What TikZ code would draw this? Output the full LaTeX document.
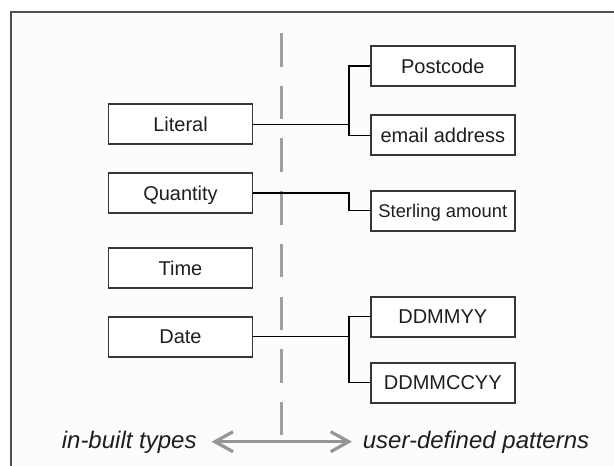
\documentclass[tikz,border=0pt]{standalone}
\usepackage{fontspec}
\setmainfont{Liberation Sans}
\usetikzlibrary{arrows.meta}
\definecolor{frameC}{RGB}{80,80,80}
\definecolor{boxC}{RGB}{55,55,55}
\definecolor{dashC}{RGB}{160,160,160}
\definecolor{arrC}{RGB}{150,150,150}
\definecolor{bgC}{RGB}{252,252,252}
\definecolor{txtC}{RGB}{30,30,30}
\tikzset{
  typebox/.style={draw=boxC, line width=1.6pt, fill=white, minimum width=144pt, minimum height=40pt,
    inner sep=0pt, text=txtC, font=\fontsize{20}{21}\selectfont, text height=14.5pt, text depth=0pt},
  conn/.style={draw=black, line width=1.2pt},
  sidelabel/.style={font=\fontsize{24}{26}\selectfont\itshape, text=txtC, inner sep=0pt, anchor=base}
}
\begin{document}
\begin{tikzpicture}[x=1pt,y=-1pt]
\useasboundingbox (0,0) rectangle (614,466);
\fill[white] (0,0) rectangle (614,466);
\fill[bgC] (11,12) rectangle (614,466);
\draw[frameC, line width=1.5pt] (11,466) -- (11,12) -- (614,12);
% dashed divider
\coordinate (dtop) at (281.5,33);
\coordinate (dbot) at (281.5,436);
\draw[dashC, line width=3.5pt, dash pattern=on 33.5pt off 19.2pt] (dtop) -- (dbot);
% left boxes
\node[typebox] (lit) at (180.5,124.2) {Literal};
\node[typebox] (qty) at (180.5,193) {Quantity};
\node[typebox] (tim) at (180.5,268) {Time};
\node[typebox] (dat) at (180.5,336.7) {Date};
% right boxes
\node[typebox] (post) at (442.8,66) {Postcode};
\node[typebox] (mail) at (442.8,135.2) {email address};
\node[typebox, font=\fontsize{18.4}{19}\selectfont] (ster) at (442.8,210.7) {Sterling amount};
\node[typebox] (ddyy) at (442.8,316.7) {DDMMYY};
\node[typebox] (ddccyy) at (442.8,382.7) {DDMMCCYY};
% junctions
\coordinate (j1) at (349,124.2);
\coordinate (j2) at (349,193);
\coordinate (j3) at (349,336.7);
\draw[conn] (lit.east) -- (j1);
\draw[conn] (j1) |- (post.west);
\draw[conn] (j1) |- (mail.west);
\draw[conn] (qty.east) -- (j2) |- (ster.west);
\draw[conn] (dat.east) -- (j3);
\draw[conn] (j3) |- (ddyy.west);
\draw[conn] (j3) |- (ddccyy.west);
% bottom labels and arrow
\node[sidelabel] (inb) at (129.2,448) {in-built types};
\node[sidelabel] (usr) at (476,448) {user-defined patterns};
\coordinate (al) at (211.7,441.7);
\coordinate (ar) at (352,441.7);
\draw[arrC, line width=3.2pt, {Straight Barb[length=18pt,width=20pt,line width=3.2pt]}-{Straight Barb[length=18pt,width=20pt,line width=3.2pt]}] (al) -- (ar);
\end{tikzpicture}
\end{document}
